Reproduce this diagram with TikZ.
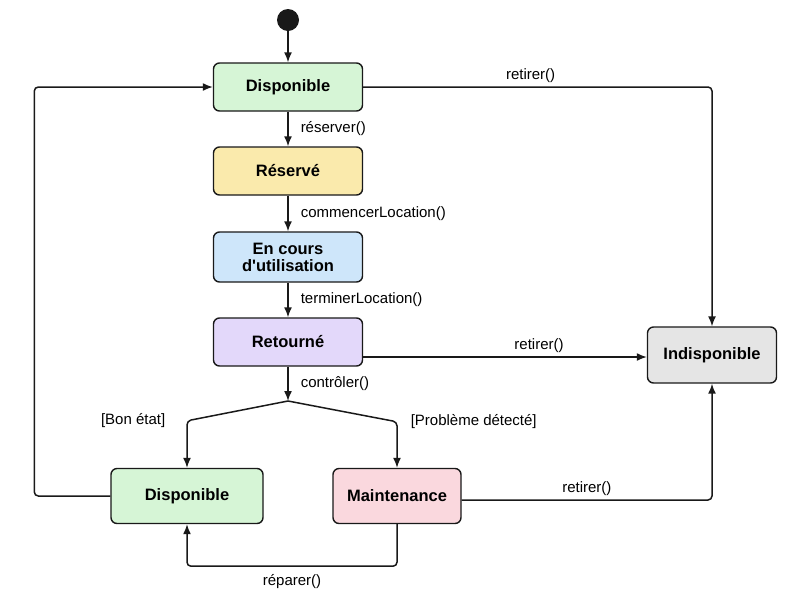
\documentclass[tikz,border=0pt]{standalone}
\usepackage{fontspec}
\setmainfont{Liberation Sans}
\usetikzlibrary{arrows.meta,positioning,calc}
\definecolor{ink}{RGB}{25,25,25}
\definecolor{cDispo}{RGB}{214,245,214}
\definecolor{cResa}{RGB}{250,234,172}
\definecolor{cCours}{RGB}{206,230,250}
\definecolor{cRetour}{RGB}{227,216,250}
\definecolor{cMaint}{RGB}{250,216,222}
\definecolor{cIndispo}{RGB}{229,229,229}
\tikzset{
  etat/.style={draw=ink,line width=1.4pt,rounded corners=6pt,inner sep=2pt,
    minimum width=149pt,minimum height=48pt,align=center,
    font=\fontsize{16.5}{19}\selectfont\bfseries},
  ar/.style={draw=ink,line width=1.5pt,rounded corners=4pt,
    -{Latex[length=10pt,width=8pt]}},
  tag/.style={font=\fontsize{15}{17}\selectfont,inner sep=1pt},
}

\begin{document}
\begin{tikzpicture}[x=1pt,y=-1pt]
  \useasboundingbox (0,0) rectangle (800,598);
  % main column of states
  \node[circle,fill=ink,inner sep=0pt,minimum size=22pt] (init) at (288,20) {};
  \node[etat,fill=cDispo] (dispo) at (288,87) {Disponible};
  \node[etat,fill=cResa] (resa) at (288,171) {Réservé};
  \node[etat,fill=cCours,minimum height=50pt] (cours) at (288,257) {En cours\\[-2pt]d\textquotesingle utilisation};
  \node[etat,fill=cRetour] (retour) at (288,342) {Retourné};
  \node[etat,fill=cIndispo,minimum width=129pt,minimum height=56pt] (indispo) at (712,355) {Indisponible};
  \node[etat,fill=cDispo,minimum width=152pt,minimum height=55pt] (dispoB) at (187,496) {Disponible};
  \node[etat,fill=cMaint,minimum width=128pt,minimum height=55pt] (maint) at (397,496) {Maintenance};
  \coordinate (choix) at (288,401);

  \draw[ar] (init) -- (dispo);
  \draw[ar] (dispo) -- node[tag,right=11pt]{réserver()} (resa);
  \draw[ar] (resa) -- node[tag,right=11pt]{commencerLocation()} (cours);
  \draw[ar] (cours) -- node[tag,right=11pt]{terminerLocation()} (retour);
  \draw[ar] (retour) -- node[tag,right=11pt]{contrôler()} (choix);

  % guards
  \draw[ar] (choix) -- ($(dispoB.north)+(0,-47)$) node[tag,left=20pt]{[Bon état]} -- (dispoB.north);
  \draw[ar] (choix) -- ($(maint.north)+(0,-46)$) node[tag,right=12pt]{[Problème détecté]} -- (maint.north);

  % back to start, repair, withdraw
  \draw[ar] (dispoB.west) -- ++(-76,0) |- (dispo.west);
  \draw[ar] (maint.south) -- ++(0,42) -| node[pos=0.25,tag,below=6pt]{réparer()} (dispoB.south);
  \draw[ar] (dispo.east) -| node[pos=0.24,tag,above=3pt]{retirer()} (indispo.north);
  \draw[ar] ($(retour.east |- indispo.west)+(0,2)$) -- node[pos=0.62,tag,above=3pt]{retirer()} ($(indispo.west)+(0,2)$);
  \draw[ar] ($(maint.east)+(0,4)$) -| node[pos=0.25,tag,above=3pt]{retirer()} (indispo.south);
\end{tikzpicture}
\end{document}
